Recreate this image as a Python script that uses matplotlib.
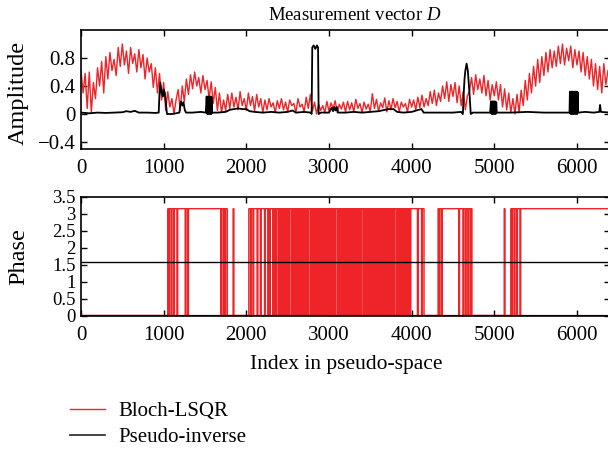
import numpy as np
import matplotlib
matplotlib.use("Agg")
import matplotlib.pyplot as plt
from matplotlib.lines import Line2D

plt.rcParams['font.family'] = ['Liberation Serif', 'DejaVu Serif']
plt.rcParams['mathtext.fontset'] = 'custom'
plt.rcParams['mathtext.it'] = 'Liberation Serif:italic'
plt.rcParams['mathtext.rm'] = 'Liberation Serif'

# ---------------- data ----------------
red_step = 25  # index spacing of Bloch-LSQR amplitude samples
red_amp = [
    0.62, 0.3, 0.58, 0.08, 0.6, 0.02, 0.45, 0.22, 0.66, 0.4,
    0.75, 0.3, 0.82, 0.5, 0.88, 0.62, 0.78, 0.55, 0.95, 0.68,
    1.0, 0.7, 0.9, 0.58, 0.95, 0.72, 0.86, 0.6, 0.92, 0.66,
    0.85, 0.5, 0.8, 0.6, 0.72, 0.38, 0.66, 0.3, 0.58, 0.2,
    0.45, 0.05, 0.32, 0.1, 0.22, 0.0, 0.2, 0.35, 0.05, 0.4,
    0.18, 0.5, 0.28, 0.56, 0.36, 0.6, 0.4, 0.52, 0.3, 0.55,
    0.35, 0.48, 0.22, 0.46, 0.15, 0.38, 0.05, 0.3, 0.02, 0.2,
    0.05, 0.28, 0.08, 0.3, 0.1, 0.24, 0.06, 0.32, 0.12, 0.22,
    0.05, 0.3, 0.12, 0.25, 0.04, 0.28, 0.1, 0.22, 0.02, 0.2,
    0.06, 0.22, 0.1, 0.16, 0.02, 0.19, 0.08, 0.22, 0.06, 0.17,
    0.03, 0.2, 0.12, 0.15, 0.02, 0.22, 0.1, 0.14, 0.03, 0.24,
    0.08, 0.28, 0.04, 0.17, 0.0, 0.14, 0.05, 0.12, 0.02, 0.18,
    0.04, 0.16, 0.08, 0.19, 0.02, 0.14, 0.07, 0.17, 0.03, 0.18,
    0.06, 0.16, 0.03, 0.21, 0.08, 0.15, 0.02, 0.17, 0.07, 0.14,
    0.03, 0.29, 0.08, 0.21, 0.04, 0.16, 0.09, 0.23, 0.03, 0.19,
    0.06, 0.22, 0.09, 0.18, 0.03, 0.17, 0.1, 0.15, 0.03, 0.21,
    0.1, 0.2, 0.06, 0.24, 0.09, 0.27, 0.1, 0.22, 0.12, 0.32,
    0.15, 0.34, 0.12, 0.3, 0.18, 0.4, 0.22, 0.46, 0.18, 0.42,
    0.25, 0.45, 0.16, 0.4, 0.12, 0.32, 0.06, 0.26, 0.33, 0.52,
    0.28, 0.56, 0.35, 0.5, 0.3, 0.55, 0.26, 0.48, 0.2, 0.42,
    0.26, 0.46, 0.2, 0.42, 0.1, 0.36, 0.06, 0.3, 0.02, 0.22,
    0.0, 0.28, 0.02, 0.34, 0.12, 0.48, 0.2, 0.58, 0.3, 0.68,
    0.4, 0.78, 0.45, 0.82, 0.55, 0.88, 0.6, 0.92, 0.66, 0.9,
    0.68, 0.97, 0.72, 1.0, 0.7, 0.94, 0.76, 0.97, 0.66, 0.92,
    0.7, 0.9, 0.6, 0.88, 0.55, 0.82, 0.5, 0.78, 0.4, 0.72,
    0.35, 0.68, 0.3, 0.72, 0.42, 0.62,
]

black_idx = [
    0, 100, 200, 300, 400, 500, 550, 600, 650, 700, 800, 900, 940, 950, 960,
    975, 990, 1000, 1015, 1030, 1040, 1100, 1150, 1190, 1200, 1210, 1225,
    1240, 1255, 1270, 1350, 1450, 1510,
    1520, 1528, 1536, 1544, 1552, 1560, 1568, 1576, 1580, 1584,
    1650, 1750, 1800, 1850, 1900, 1950, 2000, 2040, 2100, 2200, 2300, 2400,
    2500, 2560, 2600, 2700, 2780, 2790, 2798, 2815, 2835, 2855, 2868, 2875,
    2900, 3000, 3035, 3050, 3065, 3080, 3095, 3110, 3200, 3300, 3400, 3500,
    3600, 3680, 3720, 3780, 3825, 3900, 4000, 4085, 4120, 4145, 4300, 4500,
    4600, 4620, 4630, 4640, 4650, 4665, 4680, 4700, 4715, 4740, 4900, 4950,
    4960, 4968, 4976, 4984, 4992, 5000, 5008, 5016, 5024, 5030,
    5200, 5400, 5600, 5800, 5910,
    5915, 5923, 5931, 5939, 5947, 5955, 5963, 5971, 5979, 5987, 5995, 6003,
    6010, 6015, 6100, 6200, 6270, 6280, 6290, 6400,
]
black_amp = [
    0.02, 0.01, 0.02, 0.015, 0.02, 0.025, 0.04, 0.03, 0.045, 0.02, 0.02, 0.015,
    0.02, 0.3, 0.45,
    0.3, 0.25, 0.35, 0.3, 0.12, 0.0, 0.0, 0.01, 0.02, 0.12, 0.18, 0.12,
    0.17, 0.06, 0.02, 0.02, 0.03, 0.02,
    0.25, 0.0, 0.25, 0.0, 0.25, 0.0, 0.25, 0.0, 0.24, 0.02,
    0.02, 0.03, 0.06, 0.07, 0.08, 0.07, 0.07, 0.04, 0.03, 0.02, 0.03, 0.02,
    0.03, 0.05, 0.02, 0.03, 0.02, 0.0, 0.95, 0.98, 0.93, 0.98, 0.95, 0.0,
    0.02, 0.02, 0.09, 0.04, 0.1, 0.05, 0.1, 0.02, 0.02, 0.03, 0.02, 0.03,
    0.04, 0.06, 0.07, 0.07, 0.03, 0.02, 0.03, 0.06, 0.07, 0.02, 0.02, 0.02,
    0.03, 0.0, 0.3, 0.5, 0.62, 0.72, 0.62, 0.3, 0.0, 0.02, 0.02, 0.02,
    0.18, 0.0, 0.18, 0.0, 0.18, 0.0, 0.18, 0.0, 0.17, 0.02,
    0.02, 0.03, 0.02, 0.02, 0.02,
    0.32, 0.0, 0.32, 0.0, 0.32, 0.0, 0.32, 0.0, 0.32, 0.0, 0.32, 0.0,
    0.31, 0.02, 0.03, 0.02, 0.03, 0.13, 0.03, 0.02,
]

# Bloch-LSQR phase: one character per bin of 10 indices ('1' = pi, '0' = 0)
phase_bin = 10
phase_bits = "".join([
    "0000000000000000000000000000000000000000",   # 0-400
    "0000000000000000000000000000000000000000",   # 400-800
    "0000000000000000000000000101101101110111",   # 800-1200
    "1111110110111111111111111111111111111111",   # 1200-1600
    "1111111110110101100000001000000000000000",   # 1600-2000
    "0001101101111011101111011101011101010110",   # 2000-2400
    "1010101010101101010101010101010101011010",   # 2400-2800
    "1010101010101010101010101010110101010101",   # 2800-3200
    "0101010101010101010110101010101010101010",   # 3200-3600
    "1010101010101010101011010101010101010101",   # 3600-4000
    "1111111011110110000000000000000010110111",   # 4000-4400
    "1111111111111111101111011011011010000000",   # 4400-4800
    "0000000000000000000000000000000010000000",   # 4800-5200
    "1011011011101111111111111111111111111111",   # 5200-5600
    "1111111111111111111111111111111111111111",   # 5600-6000
    "1111111111111111111111111111111111111111",   # 6000-6400
])
PI = 3.14159
pinv_phase_value = 1.5708

xticks = [0, 1000, 2000, 3000, 4000, 5000, 6000]
amp_yticks = [-0.4, 0, 0.4, 0.8]
amp_yticklabels = ["\u22120.4", "0", "0.4", "0.8"]
phase_yticks = [0, 0.5, 1, 1.5, 2, 2.5, 3, 3.5]
phase_yticklabels = ["0", "0.5", "1", "1.5", "2", "2.5", "3", "3.5"]

RED = "#ee2428"
BLACK = "#000000"

# ---------------- figure ----------------
W, H = 608, 449
fig = plt.figure(figsize=(W / 100, H / 100), dpi=100)

def ax_rect(l, t, r, b):
    return [l / W, 1 - b / H, (r - l) / W, (b - t) / H]

ax1 = fig.add_axes(ax_rect(81, 30, 610, 149))
ax2 = fig.add_axes(ax_rect(81, 196.5, 610, 315.5))

red_x = np.arange(len(red_amp)) * red_step
ax1.plot(red_x, red_amp, color=RED, lw=1.0, zorder=2)
ax1.plot(black_idx, black_amp, color=BLACK, lw=1.3, zorder=3)

phase_vals = np.array([PI if c == "1" else 0.0 for c in phase_bits])
edges = np.arange(len(phase_bits) + 1) * phase_bin
ax2.stairs(phase_vals, edges, color=RED, lw=1.0, baseline=None, zorder=2)
ax2.plot([black_idx[0], black_idx[-1]], [pinv_phase_value] * 2, color=BLACK, lw=1.0, zorder=3)
ax2.plot(edges[[0, -1]], [0, 0], color="#8b1010", lw=1.6, zorder=2.5)

fs = 15
for ax in (ax1, ax2):
    ax.set_xlim(0, 6400)
    ax.set_xticks(xticks)
    ax.set_xticklabels([str(v) for v in xticks], fontsize=fs)
    ax.tick_params(direction="in", length=4, width=1.0, top=True, right=True,
                   labelsize=fs)
    ax.tick_params(axis="x", pad=7.5)
    ax.tick_params(axis="y", pad=4)
    for s in ax.spines.values():
        s.set_linewidth(1.2)

ax1.set_ylim(-0.5, 1.2)
ax1.set_yticks(amp_yticks)
ax1.set_yticklabels(amp_yticklabels, fontsize=fs)
ax2.set_ylim(0, 3.5)
ax2.set_yticks(phase_yticks)
ax2.set_yticklabels(phase_yticklabels, fontsize=13.5)

fig.text(355 / W, 1 - 15 / H, r"Measurement vector $D$", ha="center", va="center", fontsize=13.5)
fig.text(18 / W, 1 - 93 / H, "Amplitude", rotation=90, ha="center", va="center", fontsize=17.5)
fig.text(19 / W, 1 - 257 / H, "Phase", rotation=90, ha="center", va="center", fontsize=17.5)
fig.text(346 / W, 1 - 365 / H, "Index in pseudo-space", ha="center", va="center", fontsize=15.5)

handles = [Line2D([], [], color=RED, lw=1.0), Line2D([], [], color="#222222", lw=1.2)]
fig.legend(handles, ["Bloch-LSQR", "Pseudo-inverse"], loc="center left",
           bbox_to_anchor=(70 / W, 1 - 424.5 / H), frameon=False, fontsize=15,
           handlelength=1.68, handletextpad=0.62, labelspacing=0.3, borderpad=0,
           borderaxespad=0)

fig.savefig("out.png", dpi=100)
